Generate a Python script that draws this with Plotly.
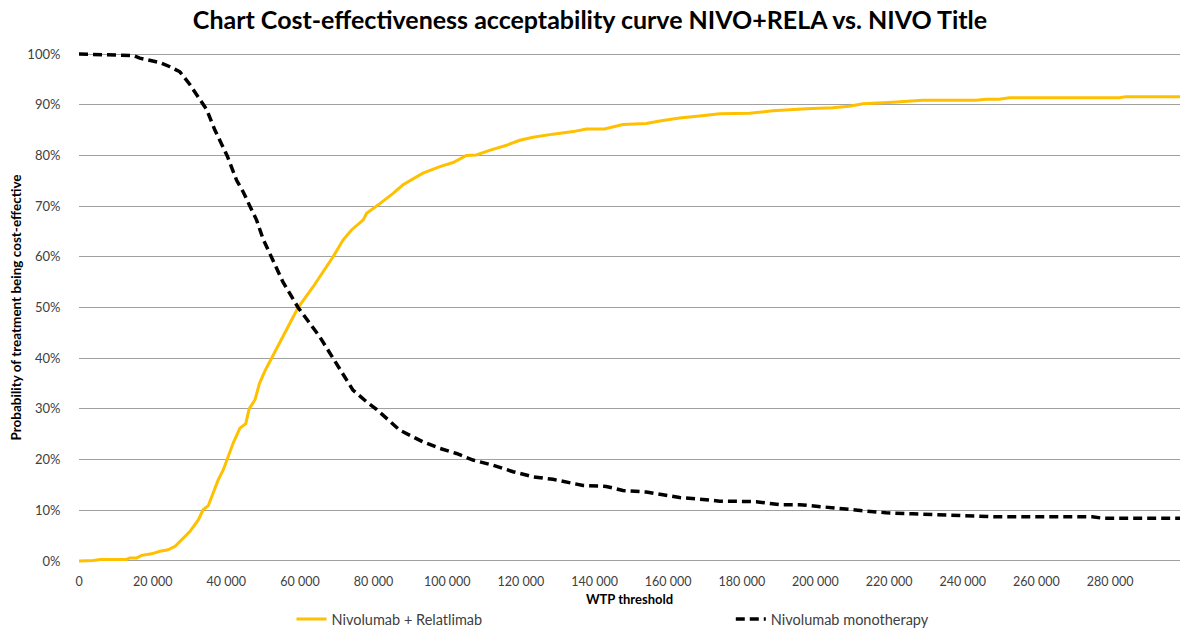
import plotly.graph_objects as go

# Willingness-to-pay thresholds and probabilities for Nivolumab + Relatlimab
wtp_combo = [0, 3900, 5700, 12900, 13800, 15700, 17000, 19700, 22000, 24200, 26100,
             27900, 30100, 32400, 33700, 35100, 37800, 39200, 40500, 41900, 43700,
             45300, 46200, 47800, 49000, 50500, 52300, 56000, 59500, 63600, 69000,
             71700, 74000, 77200, 78100, 81700, 85300, 88000, 91600, 93400, 98000,
             101600, 105200, 107900, 111500, 116100, 119700, 123300, 128700, 134200,
             137800, 141400, 142700, 147700, 154100, 157700, 163100, 168500, 174000,
             182100, 188400, 197500, 204700, 209200, 212900, 221000, 226400, 229100,
             243600, 246300, 249900, 252700, 282500, 284300, 299000]
prob_combo = [0.000, 0.001, 0.003, 0.003, 0.006, 0.006, 0.011, 0.014, 0.019, 0.022, 0.029,
              0.042, 0.058, 0.081, 0.101, 0.109, 0.160, 0.180, 0.206, 0.233, 0.262,
              0.271, 0.300, 0.318, 0.350, 0.375, 0.400, 0.450, 0.500, 0.541, 0.600,
              0.633, 0.653, 0.673, 0.686, 0.705, 0.725, 0.742, 0.758, 0.765, 0.778,
              0.786, 0.800, 0.801, 0.810, 0.820, 0.830, 0.836, 0.842, 0.847,
              0.852, 0.852, 0.852, 0.861, 0.863, 0.868, 0.874, 0.878, 0.882,
              0.883, 0.888, 0.892, 0.894, 0.897, 0.902, 0.905, 0.907, 0.909,
              0.909, 0.911, 0.911, 0.914, 0.914, 0.916, 0.916]

# Willingness-to-pay thresholds and probabilities for Nivolumab monotherapy
wtp_mono = [0, 11100, 14700, 16500, 22000, 24700, 27400, 30100, 33700, 34700, 36900,
            40200, 42800, 44600, 46400, 48200, 50000, 52300, 55400, 59500, 65400,
            69000, 71500, 74400, 78100, 80800, 87100, 93400, 98000, 102500, 107000,
            112400, 117900, 123300, 128700, 136900, 143200, 147700, 154100, 157700,
            163100, 168500, 174000, 183900, 190300, 195700, 202900, 207400, 212900,
            219200, 226400, 233600, 240900, 249000, 275200, 278400, 299000]
prob_mono = [1.000, 0.998, 0.997, 0.992, 0.983, 0.975, 0.965, 0.940, 0.900, 0.890, 0.850,
             0.800, 0.751, 0.728, 0.700, 0.673, 0.635, 0.600, 0.550, 0.500, 0.442,
             0.400, 0.370, 0.337, 0.314, 0.299, 0.258, 0.235, 0.222, 0.212, 0.199,
             0.189, 0.176, 0.166, 0.161, 0.149, 0.147, 0.139, 0.136, 0.132,
             0.125, 0.122, 0.118, 0.117, 0.111, 0.111, 0.105, 0.103, 0.099,
             0.095, 0.093, 0.091, 0.089, 0.087, 0.087, 0.084, 0.084]

x_tick_values = [0, 20000, 40000, 60000, 80000, 100000, 120000, 140000, 160000,
                 180000, 200000, 220000, 240000, 260000, 280000]
x_tick_labels = ["0", "20 000", "40 000", "60 000", "80 000", "100 000", "120 000",
                 "140 000", "160 000", "180 000", "200 000", "220 000", "240 000",
                 "260 000", "280 000"]
y_tick_values = [0, 0.1, 0.2, 0.3, 0.4, 0.5, 0.6, 0.7, 0.8, 0.9, 1.0]
y_tick_labels = ["0%", "10%", "20%", "30%", "40%", "50%", "60%", "70%", "80%", "90%", "100%"]

FONT = "Lato, Open Sans, Arial, sans-serif"
TEXT_GREY = "#404040"
GRID = "#a0a0a0"

fig = go.Figure()
fig.add_trace(go.Scatter(
    x=wtp_combo, y=prob_combo, mode="lines", name="Nivolumab + Relatlimab",
    line=dict(color="#FFC000", width=3), legend="legend",
))
fig.add_trace(go.Scatter(
    x=wtp_mono, y=prob_mono, mode="lines", name="Nivolumab monotherapy",
    line=dict(color="#000000", width=3.5, dash="9px,5px"), legend="legend2",
))

fig.update_layout(
    width=1180, height=630,
    margin=dict(l=79, r=0, t=50, b=65, autoexpand=False),
    paper_bgcolor="white", plot_bgcolor="white",
    font=dict(family=FONT, color=TEXT_GREY, size=13),
    title=dict(
        text="<b>Chart Cost-effectiveness acceptability curve NIVO+RELA vs. NIVO Title</b>",
        x=0.5, xref="container", xanchor="center", y=0.968, yanchor="middle",
        font=dict(family=FONT, size=25, color="#000000"),
    ),
    xaxis=dict(
        range=[0, 299000], tickmode="array", tickvals=x_tick_values, ticktext=x_tick_labels,
        showgrid=False, zeroline=False, showline=False,
        ticks="outside", ticklen=5, tickcolor="rgba(0,0,0,0)",
        tickfont=dict(size=12.5, color=TEXT_GREY),
        title=dict(text="<b>WTP threshold</b>", font=dict(size=13, color="#000000"), standoff=6),
    ),
    yaxis=dict(
        range=[-0.008, 1.008], tickmode="array", tickvals=y_tick_values, ticktext=y_tick_labels,
        showgrid=True, gridcolor=GRID, gridwidth=1, zeroline=False, showline=False,
        ticks="outside", ticklen=15, tickcolor="rgba(0,0,0,0)",
        tickfont=dict(size=13, color=TEXT_GREY),
        title=dict(text="<b>Probability of treatment being cost-effective</b>",
                   font=dict(size=13.5, color="#000000"), standoff=2),
    ),
    legend=dict(
        x=0.193, y=-0.105, xanchor="left", yanchor="middle", orientation="h",
        font=dict(size=14.5, color=TEXT_GREY), bgcolor="rgba(0,0,0,0)",
    ),
    legend2=dict(
        x=0.592, y=-0.105, xanchor="left", yanchor="middle", orientation="h",
        font=dict(size=14.5, color=TEXT_GREY), bgcolor="rgba(0,0,0,0)",
    ),
    showlegend=True,
)

fig.write_html("out.html")
